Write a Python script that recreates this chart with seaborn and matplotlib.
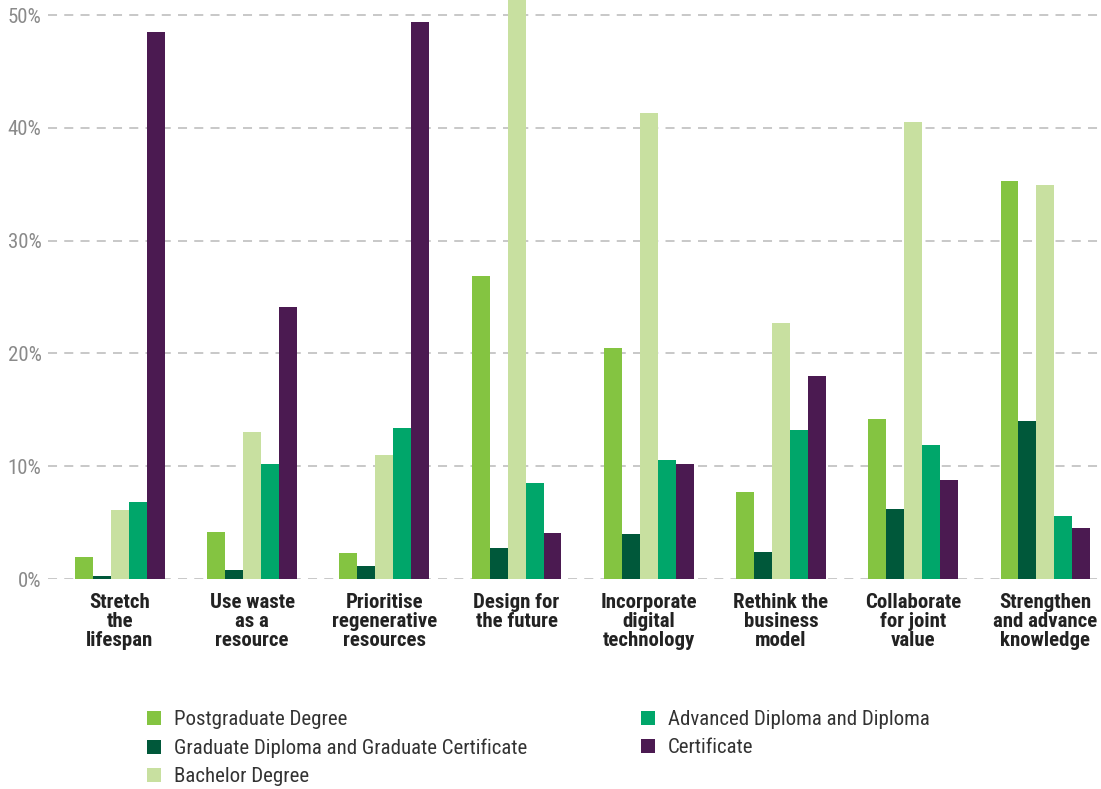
import pandas as pd
import numpy as np
import matplotlib
matplotlib.use("Agg")
import matplotlib.pyplot as plt
import seaborn as sns
from matplotlib import font_manager
from matplotlib.ticker import FuncFormatter

# Categories (x axis) and qualification levels (hue)
categories = [
    "Stretch\nthe\nlifespan",
    "Use waste\nas a\nresource",
    "Prioritise\nregenerative\nresources",
    "Design for\nthe future",
    "Incorporate\ndigital\ntechnology",
    "Rethink the\nbusiness\nmodel",
    "Collaborate\nfor joint\nvalue",
    "Strengthen\nand advance\nknowledge",
]
levels = [
    "Postgraduate Degree",
    "Graduate Diploma and Graduate Certificate",
    "Bachelor Degree",
    "Advanced Diploma and Diploma",
    "Certificate",
]

# Percent values
postgraduate = [2.0, 4.2, 2.3, 26.9, 20.5, 7.7, 14.2, 35.3]
grad_diploma = [0.3, 0.8, 1.2, 2.8, 4.0, 2.4, 6.2, 14.0]
bachelor = [6.1, 13.0, 11.0, 53.0, 41.3, 22.7, 40.5, 34.9]
adv_diploma = [6.8, 10.2, 13.4, 8.5, 10.6, 13.2, 11.9, 5.6]
certificate = [48.5, 24.1, 49.4, 4.1, 10.2, 18.0, 8.8, 4.5]

colors = ["#84c441", "#00583a", "#c8e0a0", "#00a66a", "#4b1a51"]

series = [postgraduate, grad_diploma, bachelor, adv_diploma, certificate]
rows = []
for lvl, vals in zip(levels, series):
    for cat, v in zip(categories, vals):
        rows.append({"category": cat, "level": lvl, "value": v})
df = pd.DataFrame(rows)

sns.set_style("white")

# pick a narrow font if one is around (the original uses a DIN-like face)
names = {f.name for f in font_manager.fontManager.ttflist}
dejavu_cond = any(f.name == "DejaVu Sans" and f.stretch == "condensed"
                  for f in font_manager.fontManager.ttflist)
stretch = "normal"
if "Roboto Condensed" in names:
    fam = "Roboto Condensed"
elif "Liberation Sans Narrow" in names:
    fam = "Liberation Sans Narrow"
elif dejavu_cond:
    fam = "DejaVu Sans"
    stretch = "condensed"
else:
    fam = "Roboto"
plt.rcParams['font.family'] = [fam, 'DejaVu Sans']
plt.rcParams['font.stretch'] = stretch
fs = 15 if fam != "Roboto" else 13

fig = plt.figure(figsize=(11.01, 7.89), dpi=100)
ax = fig.add_axes([0.044, 0.266, 0.956, 0.734])

sns.barplot(data=df, x="category", y="value", hue="level", order=categories,
            hue_order=levels, palette=colors, width=0.68, saturation=1,
            linewidth=0, ax=ax, legend=True)

ax.set_ylim(0, 51.33)
ax.set_xlim(-0.54, 7.42)
ax.set_yticks([0, 10, 20, 30, 40, 50])
ax.yaxis.set_major_formatter(FuncFormatter(lambda v, p: f"{int(v)}%"))
ax.set_axisbelow(True)
ax.grid(axis="y", linestyle=(0, (5, 4)), color="#c4c4c4", linewidth=1.3)
ax.grid(axis="x", visible=False)
for s in ax.spines.values():
    s.set_visible(False)
ax.set_xlabel("")
ax.set_ylabel("")
ax.tick_params(axis="y", length=0, labelsize=fs, labelcolor="#8a8a8a", pad=5)
ax.tick_params(axis="x", length=0, labelsize=fs, pad=10)
for lab in ax.get_xticklabels():
    lab.set_fontweight("bold")
    lab.set_color("#222222")
    lab.set_linespacing(1.0)

handles, labels = ax.get_legend_handles_labels()
ax.get_legend().remove()
fig.legend(handles, labels, loc="upper left", bbox_to_anchor=(0.1335, 0.100),
           ncol=2, frameon=False, fontsize=fs, handlelength=0.67,
           handleheight=0.67, handletextpad=0.62, columnspacing=5.45,
           labelspacing=0.45, borderpad=0, borderaxespad=0,
           labelcolor="#333333")

plt.savefig("out.png", dpi=100)
